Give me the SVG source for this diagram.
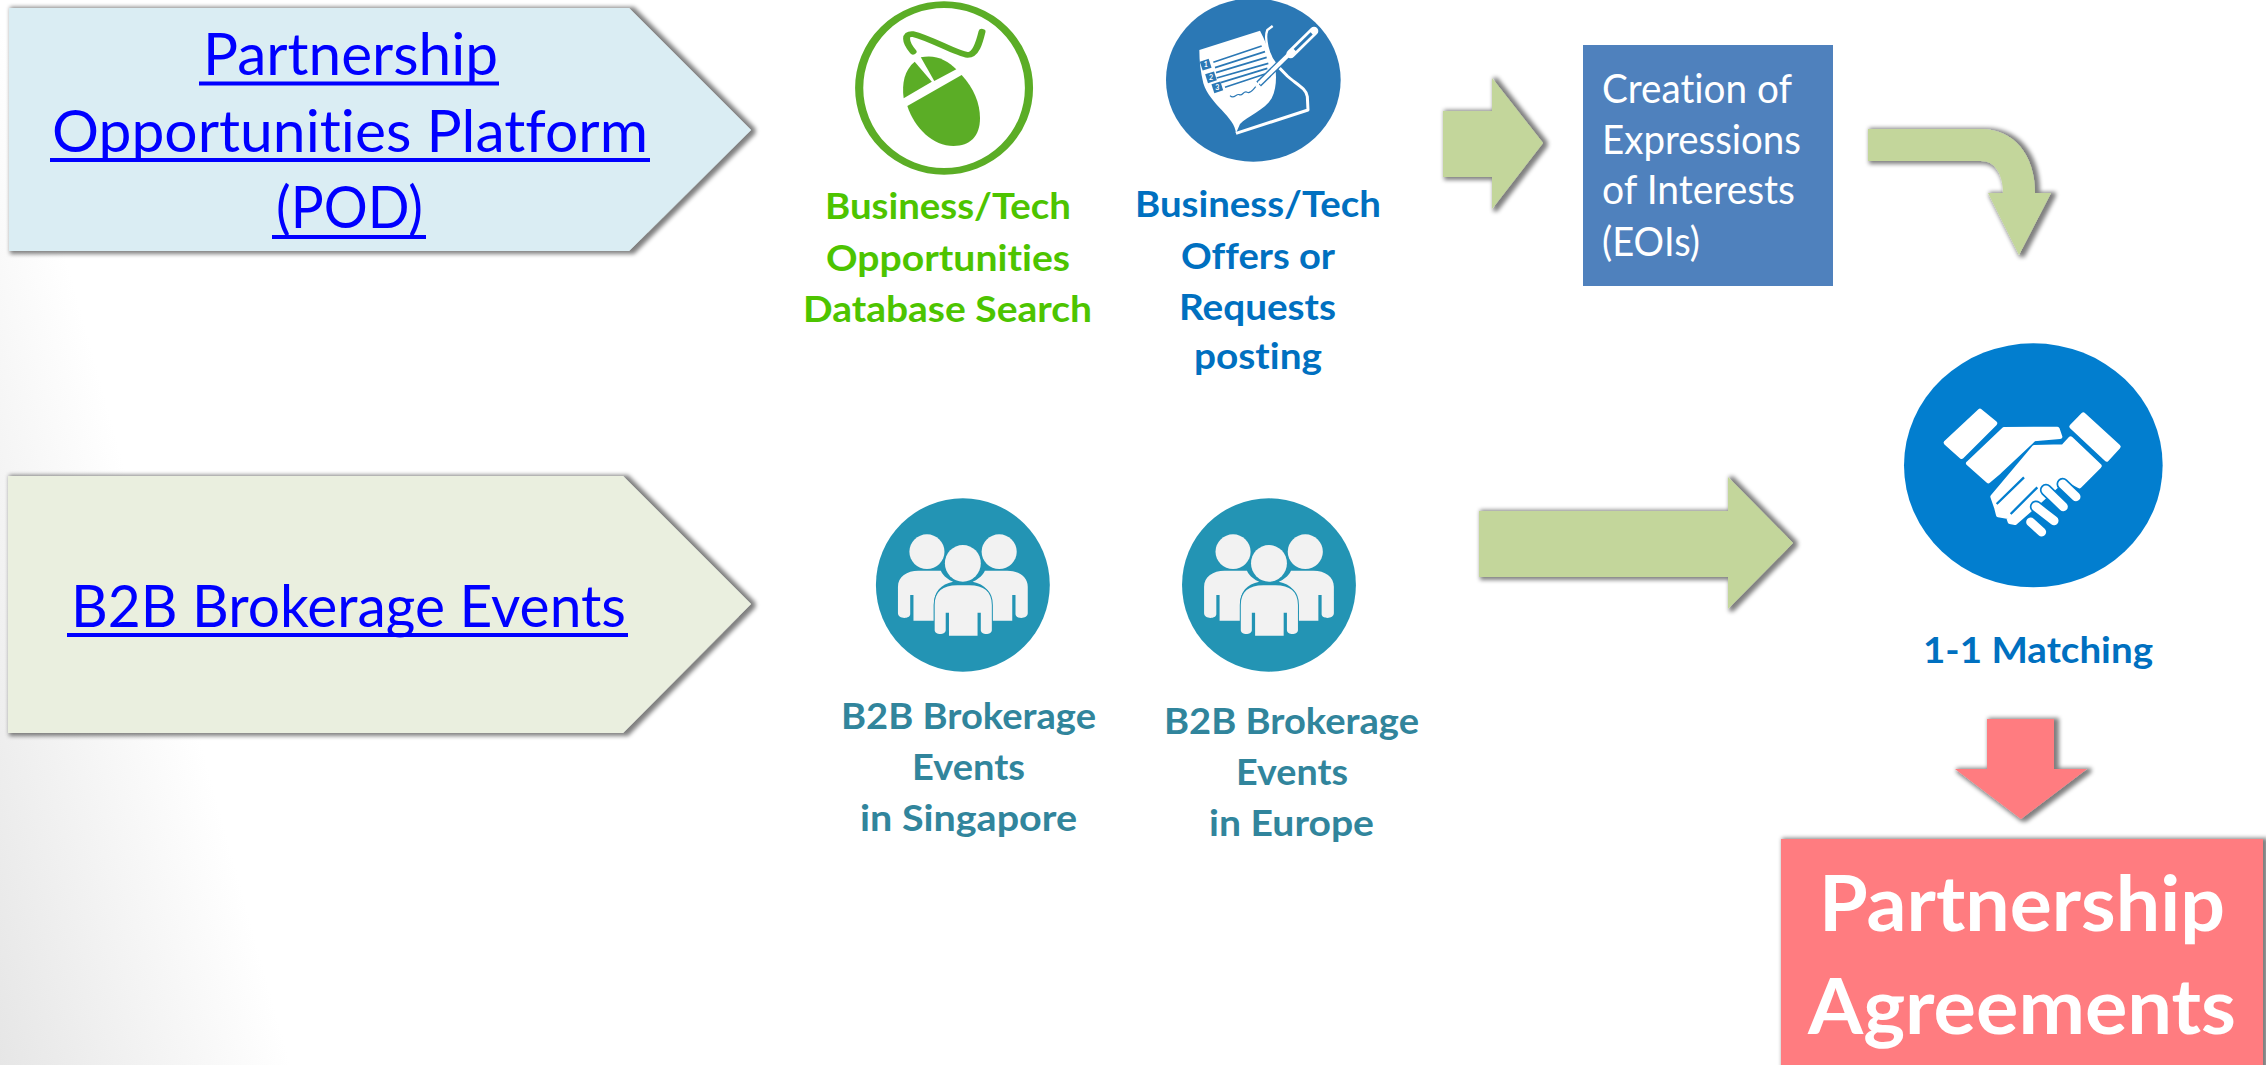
<svg xmlns="http://www.w3.org/2000/svg" width="2266" height="1065" viewBox="0 0 2266 1065">
<style>
text{font-family:Lato,"Liberation Sans",sans-serif;font-variant-ligatures:none}
.link{font-size:58px;fill:#0000FF}
.ul{fill:#0000FF}
.b{font-size:36px;font-weight:700}
.green{fill:#4DC400}
.blue{fill:#0070C0}
.teal{fill:#31859C}
.eoi{font-size:40px;fill:#FFFFFF}
.big{font-size:77px;font-weight:700;fill:#FFFFFF}
.sh{filter:url(#shadow)}
.arrow{fill:#C3D69B}
.num{font-size:21px;font-weight:700;fill:#FFFFFF;text-anchor:middle}
</style>
<defs>
<linearGradient id="bg" gradientUnits="userSpaceOnUse" x1="0" y1="1065" x2="270" y2="990">
<stop offset="0" stop-color="#E6E6E6"/><stop offset="1" stop-color="#FFFFFF"/>
</linearGradient>
<filter id="shadow" x="-10%" y="-15%" width="120%" height="130%">
<feMorphology in="SourceAlpha" operator="dilate" radius="1.500"/>
<feOffset dx="3" dy="0.500"/>
<feGaussianBlur stdDeviation="2.200"/>
<feComponentTransfer><feFuncA type="linear" slope="0.5"/></feComponentTransfer>
<feMerge><feMergeNode/><feMergeNode in="SourceGraphic"/></feMerge>
</filter>
<g id="people">
<path d="M240 400V320C240 290 262 272 290 272H345C352 290 365 300 375 305C345 312 328 335 328 375V422H278V345H270V402C270 418 240 418 240 400Z" fill="#F2F2F2"/>
<path d="M558 400V320C558 290 536 272 508 272H453C446 290 433 300 423 305C453 312 470 335 470 375V422H520V345H528V402C528 418 558 418 558 400Z" fill="#F2F2F2"/>
<ellipse cx="311" cy="215" rx="43" ry="52" fill="#F2F2F2"/>
<ellipse cx="488" cy="215" rx="43" ry="52" fill="#F2F2F2"/>
<ellipse cx="399" cy="250" rx="44" ry="55" fill="#F2F2F2"/>
<path d="M330 450V375C330 335 350 316 385 316H415C450 316 470 335 470 375V450C470 466 443 466 443 450V398H435V467H365V398H357V450C357 466 330 466 330 450Z" fill="#F2F2F2" stroke="#2394B4" stroke-width="5" paint-order="stroke"/>
</g>
</defs>
<rect id="background" width="2266" height="1065" fill="url(#bg)"/>

<g id="connectors">
<polygon id="arrow-offers-eoi" class="arrow sh" points="1443,111 1492,111 1492,78 1543,143 1492,209 1492,177 1443,177"/>
<path id="arrow-eoi-matching" class="arrow sh" d="M1868 129H1981C2014 129 2035 155 2035 193H2051L2019 255L1988 193H2003C2003 174 1995 161 1981 161H1868Z"/>
<polygon id="arrow-b2b-matching" class="arrow sh" points="1479,511 1728,511 1728,477 1793,543 1728,609 1728,577 1479,577"/>
<polygon id="arrow-matching-agreements" class="sh" fill="#FF7C80" points="1987,719 2054,719 2054,769 2087,769 2021,819 1955,769 1987,769"/>
</g>

<g id="node-pod">
<polygon class="sh" fill="#DAEDF3" points="9,8 629,8 751,130 629,251 9,251"/>
<text class="link" x="203" y="75" textLength="295" lengthAdjust="spacingAndGlyphs">Partnership</text>
<rect class="ul" x="199" y="81.500" width="300" height="4"/>
<text class="link" x="52" y="152" textLength="596" lengthAdjust="spacingAndGlyphs">Opportunities Platform</text>
<rect class="ul" x="50" y="158" width="600" height="4"/>
<text class="link" x="276" y="228" textLength="147" lengthAdjust="spacingAndGlyphs">(POD)</text>
<rect class="ul" x="272" y="235" width="154" height="4"/>
</g>

<g id="node-b2b">
<polygon class="sh" fill="#EAEFDF" points="8,476 623,476 751,604 623,733 8,733"/>
<text class="link" x="71" y="627" textLength="555" lengthAdjust="spacingAndGlyphs">B2B Brokerage Events</text>
<rect class="ul" x="67" y="633" width="561" height="4"/>
</g>

<g id="node-search">
<g transform="translate(780 0) scale(0.40816 0.33333)">
<ellipse cx="402" cy="264" rx="208" ry="250" fill="none" stroke="#5BAD26" stroke-width="20"/>
<path d="M312 318L445 225C475 265 490 310 490 355C490 410 465 438 425 438C375 438 330 385 312 318Z" fill="#5BAD26"/>
<path d="M303 295C298 250 305 210 330 185L372 245Z" fill="#5BAD26"/>
<path d="M345 172C380 162 410 180 432 208L378 243Z" fill="#5BAD26"/>
<path d="M326 155C305 125 305 100 325 102C370 115 430 160 460 165C480 165 488 130 495 95" fill="none" stroke="#5BAD26" stroke-width="17" stroke-linecap="round" stroke-linejoin="round"/>
</g>
<text class="b green" x="825" y="219" textLength="246" lengthAdjust="spacingAndGlyphs">Business/Tech</text>
<text class="b green" x="826" y="271" textLength="244" lengthAdjust="spacingAndGlyphs">Opportunities</text>
<text class="b green" x="803" y="322" textLength="289" lengthAdjust="spacingAndGlyphs">Database Search</text>
</g>

<g id="node-offers">
<g transform="translate(1160 0) scale(0.33333)">
<ellipse cx="280" cy="240" rx="262" ry="245" fill="#2B78B5"/>
<path d="M345 190L382 228C405 250 440 265 442 290L444 330L228 400" fill="none" stroke="#FFFFFF" stroke-width="9" stroke-linejoin="round"/>
<path d="M118 150L300 92C318 125 330 165 345 190C350 230 350 265 335 295C315 330 260 350 240 372L228 400C225 350 150 315 130 250C122 215 118 185 118 150Z" fill="#FFFFFF"/>
<path d="M338 78L322 90C312 115 325 165 345 190" fill="none" stroke="#FFFFFF" stroke-width="7"/>
<path d="M160 187L305 138M165 203L315 155M168 218L320 172M170 234L325 190M182 248L322 205M195 262L315 222" stroke="#2B78B5" stroke-width="5" fill="none"/>
<rect x="123" y="180" width="28" height="28" fill="#2B78B5" transform="rotate(-18 137 194)"/>
<rect x="139" y="218" width="28" height="28" fill="#2B78B5" transform="rotate(-18 153 232)"/>
<rect x="158" y="248" width="28" height="28" fill="#2B78B5" transform="rotate(-18 172 262)"/>
<text class="num" x="137" y="202">1</text>
<text class="num" x="153" y="240">2</text>
<text class="num" x="172" y="270">3</text>
<path d="M210 287C222 300 228 280 238 284C248 290 250 270 262 277C272 282 278 268 290 258" fill="none" stroke="#2B78B5" stroke-width="3.500"/>
<path d="M296 252L385 165" stroke="#2B78B5" stroke-width="20" fill="none"/>
<path d="M298 250L385 165" stroke="#FFFFFF" stroke-width="12" fill="none"/>
<path d="M392 162L462 93" stroke="#FFFFFF" stroke-width="26" stroke-linecap="round"/>
<path d="M404 150L455 100" stroke="#2B78B5" stroke-width="9"/>
<path d="M288 262L298 246" stroke="#FFFFFF" stroke-width="5"/>
</g>
<text class="b blue" x="1135" y="217" textLength="246" lengthAdjust="spacingAndGlyphs">Business/Tech</text>
<text class="b blue" x="1181" y="269" textLength="154" lengthAdjust="spacingAndGlyphs">Offers or</text>
<text class="b blue" x="1179" y="320" textLength="157" lengthAdjust="spacingAndGlyphs">Requests</text>
<text class="b blue" x="1194" y="369" textLength="128" lengthAdjust="spacingAndGlyphs">posting</text>
</g>

<g id="node-eoi">
<rect x="1583" y="45" width="250" height="241" fill="#4F81BD"/>
<text class="eoi" x="1602" y="103" textLength="190" lengthAdjust="spacingAndGlyphs">Creation of</text>
<text class="eoi" x="1602" y="154" textLength="199" lengthAdjust="spacingAndGlyphs">Expressions</text>
<text class="eoi" x="1602" y="204" textLength="193" lengthAdjust="spacingAndGlyphs">of Interests</text>
<text class="eoi" x="1602" y="256" textLength="98" lengthAdjust="spacingAndGlyphs">(EOIs)</text>
</g>

<g id="node-singapore">
<g transform="translate(800 480) scale(0.40816 0.33333)">
<ellipse cx="399" cy="315" rx="213" ry="260" fill="#2394B4"/>
<use href="#people"/>
</g>
<text class="b teal" x="841" y="729" textLength="255" lengthAdjust="spacingAndGlyphs">B2B Brokerage</text>
<text class="b teal" x="912" y="780" textLength="113" lengthAdjust="spacingAndGlyphs">Events</text>
<text class="b teal" x="860" y="831" textLength="217" lengthAdjust="spacingAndGlyphs">in Singapore</text>
</g>

<g id="node-europe">
<g transform="translate(800 480) scale(0.40816 0.33333)">
<ellipse cx="1149" cy="315" rx="213" ry="260" fill="#2394B4"/>
<use href="#people" x="750"/>
</g>
<text class="b teal" x="1164" y="734" textLength="255" lengthAdjust="spacingAndGlyphs">B2B Brokerage</text>
<text class="b teal" x="1236" y="785" textLength="112" lengthAdjust="spacingAndGlyphs">Events</text>
<text class="b teal" x="1209" y="836" textLength="165" lengthAdjust="spacingAndGlyphs">in Europe</text>
</g>

<g id="node-matching">
<g transform="translate(1800 330) scale(0.33333)">
<ellipse cx="700" cy="406" rx="388" ry="366" fill="#027ECF"/>
<g fill="#FFFFFF" stroke="#FFFFFF" stroke-width="14" stroke-linejoin="round">
<polygon points="438,338 540,243 585,280 485,380"/>
<polygon points="850,254 955,350 920,388 815,290"/>
<polygon points="505,400 612,298 772,297 780,320 702,327 598,425 565,453"/>
<path d="M703 352L790 350L812 326L898 408L838 468L795 445L700 530L645 578L630 575L625 560L595 555L590 535L578 500Z"/>
</g>
<path d="M672 442L590 522M712 472L632 552" stroke="#027ECF" stroke-width="7" fill="none"/>
<g fill="none" stroke-linecap="round">
<path d="M788 462L828 500M738 480L790 530M708 530L762 572M692 576L725 606" stroke="#027ECF" stroke-width="37"/>
<path d="M788 462L828 500M738 480L790 530M708 530L762 572M692 576L725 606" stroke="#FFFFFF" stroke-width="27"/>
</g>
</g>
<text class="b blue" x="1923" y="663" textLength="230" lengthAdjust="spacingAndGlyphs" style="font-size:37px">1-1 Matching</text>
</g>

<g id="node-agreements">
<rect class="sh" x="1781" y="839" width="482" height="240" fill="#FF7C80"/>
<text class="big" x="1819" y="931" textLength="406" lengthAdjust="spacingAndGlyphs">Partnership</text>
<text class="big" x="1808" y="1034" textLength="428" lengthAdjust="spacingAndGlyphs">Agreements</text>
</g>
</svg>
